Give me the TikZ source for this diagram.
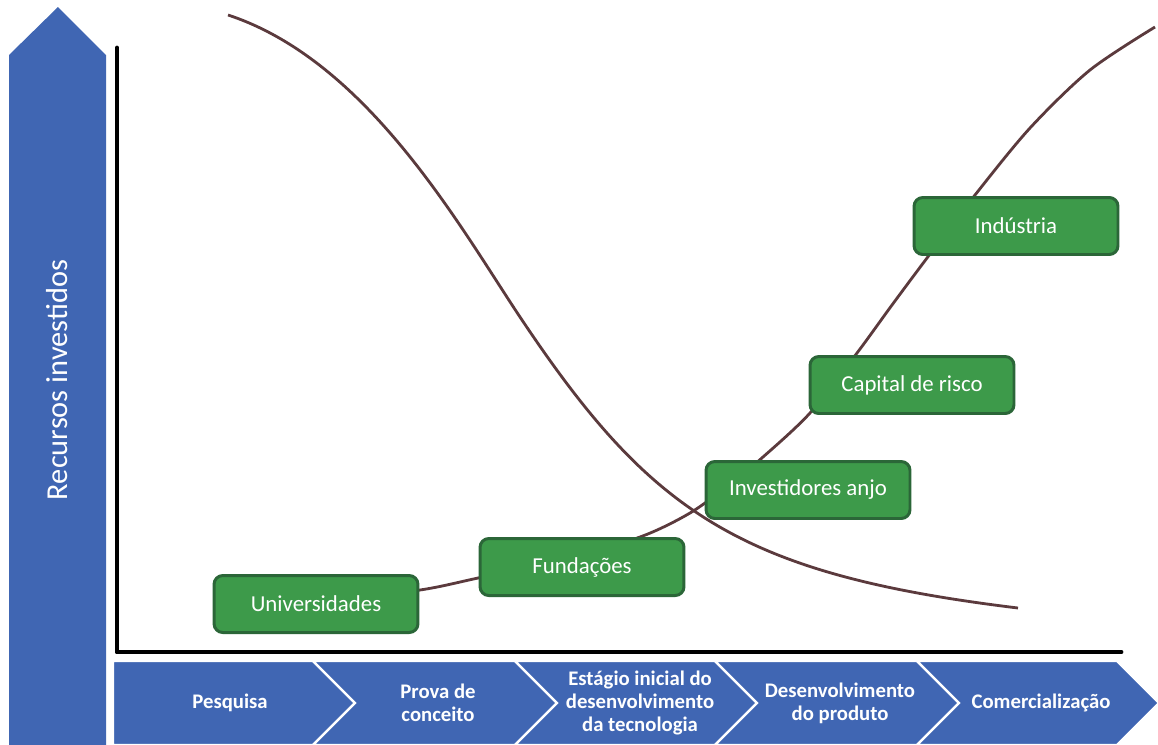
\documentclass[tikz,border=0pt]{standalone}
\usepackage{fontspec}
\setmainfont{Carlito}
\definecolor{stageblue}{HTML}{4066B3}
\definecolor{boxgreen}{HTML}{3D9A4A}
\definecolor{boxedge}{HTML}{2B6638}
\definecolor{curvebrown}{HTML}{5B3A3D}

\begin{document}
\begin{tikzpicture}[x=0.02cm, y=-0.02cm,
  axis/.style={line width=2.8pt, line cap=round, line join=round},
  curve/.style={draw=curvebrown, line width=1.6pt},
  agent/.style={draw=boxedge, line width=1.7pt, fill=boxgreen, rounded corners=5pt,
    minimum width=4.08cm, minimum height=1.14cm, text=white,
    font=\fontsize{13}{15}\selectfont},
  chev/.style={fill=stageblue, draw=white, line width=1.3pt},
  stage/.style={text=white, align=center, font=\bfseries\fontsize{11.8}{13.2}\selectfont}
]
\useasboundingbox (0,0) rectangle (1158,744);
\clip (0,0) rectangle (1158,744);

% vertical arrow
\fill[stageblue] (9,750) -- (9,55) -- (58,7) -- (106,55) -- (106,750) -- cycle;
\node[rotate=90, text=white, font=\fontsize{17.3}{20}\selectfont] (recursos) at (57,380) {Recursos investidos};

% axes
\draw[axis] (117,48) -- (117,652) -- (1121,652);

% stage chevrons
\filldraw[chev] (113,661) -- (313,661) -- (355,703) -- (313,745) -- (113,745) -- cycle;
\foreach \l/\r in {313/515, 515/715, 715/917, 917/1117}
  \filldraw[chev] (\l,661) -- (\r,661) -- ({\r+42},703) -- (\r,745) -- (\l,745) -- ({\l+42},703) -- cycle;
\node[stage] (pesquisa) at (230,703) {Pesquisa};
\node[stage] (prova) at (438,703) {Prova de\\conceito};
\node[stage] (estagio) at (640,703) {Estágio inicial do\\desenvolvimento\\da tecnologia};
\node[stage] (produto) at (840,703) {Desenvolvimento\\do produto};
\node[stage] (comercial) at (1041,703) {Comercialização};

% curves
\draw[curve] (228,15) .. controls (368,61) and (460,227) .. (520,317)
  .. controls (650,512) and (738,574) .. (1018,608);
\draw[curve] plot[smooth] coordinates {(330,600) (420,590) (478,578) (560,560) (640,537)
  (690,513) (730,484) (763,457) (810,413) (857,353) (892,305) (927,258) (975,195)
  (1030,128) (1090,70) (1155,27)};

% sources of funding
\node[agent] (univ) at (316,604) {Universidades};
\node[agent] (fund) at (582,567) {Fundações};
\node[agent] (anjo) at (808,490) {Investidores anjo};
\node[agent] (risco) at (912,385) {Capital de risco};
\node[agent] (industria) at (1016,226) {Indústria};
\end{tikzpicture}
\end{document}
